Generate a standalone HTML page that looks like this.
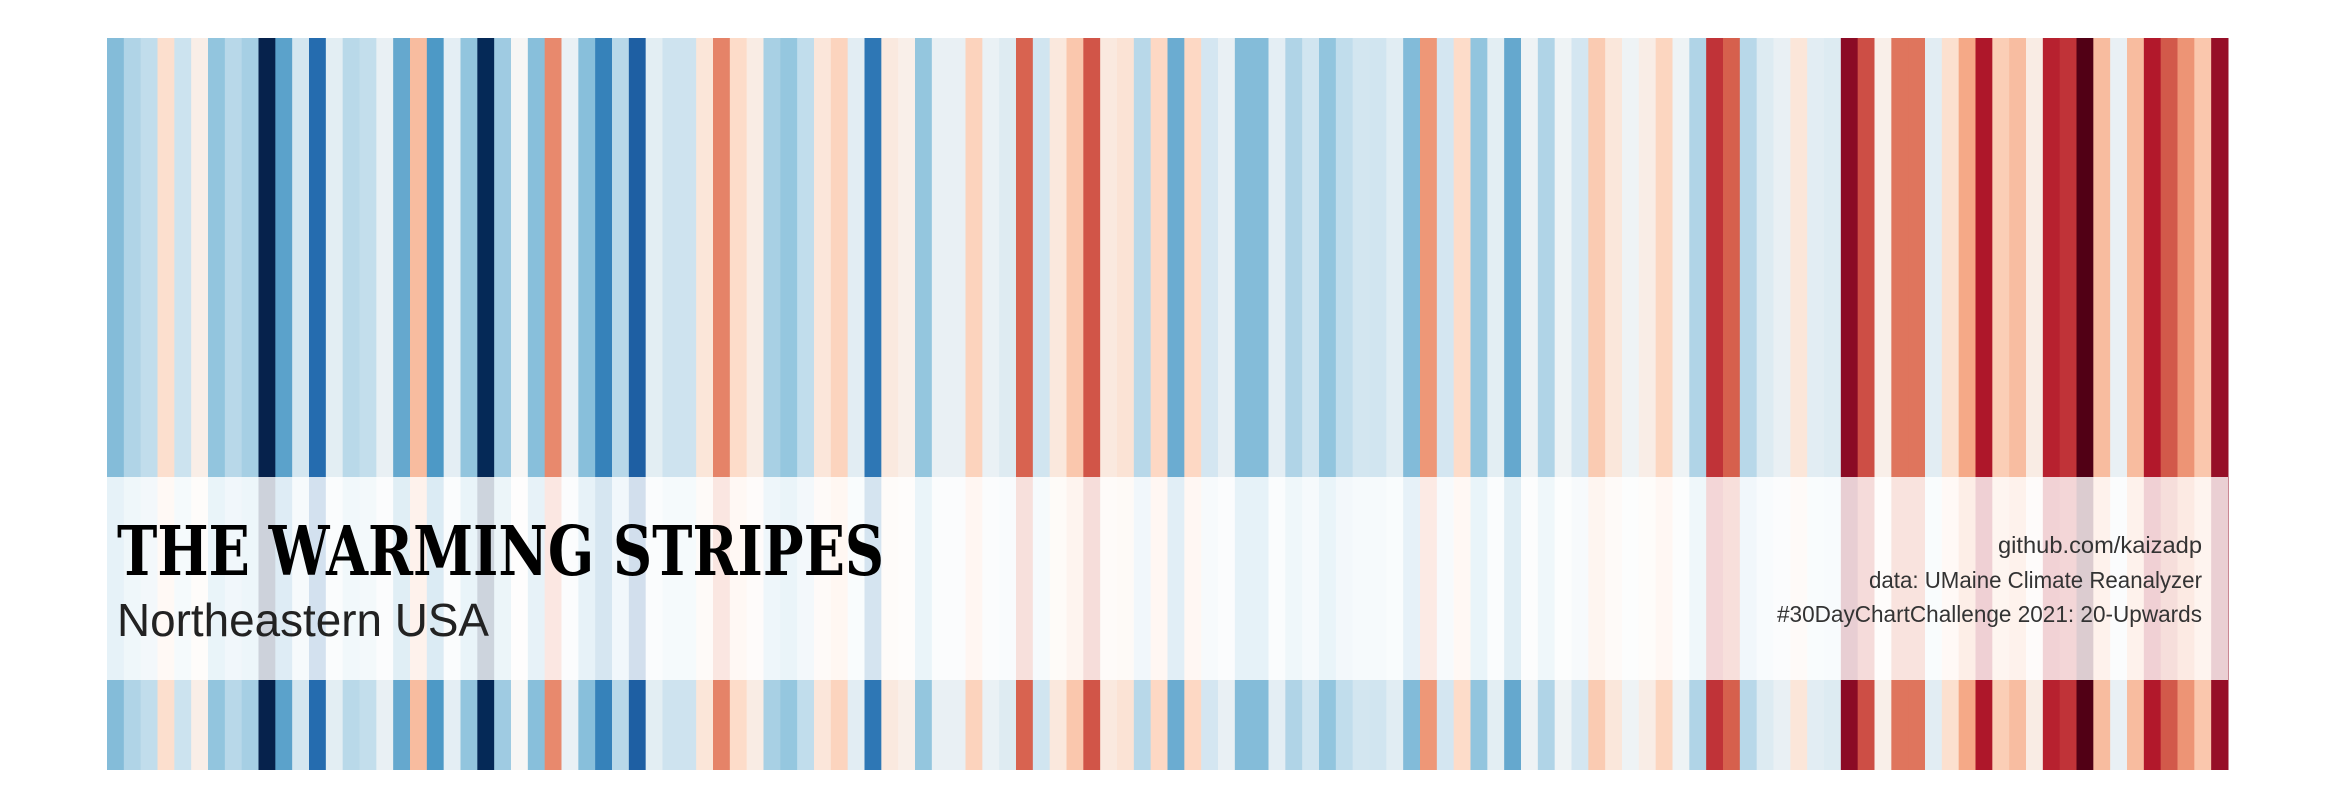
<!DOCTYPE html>
<html><head><meta charset="utf-8"><style>html,body{margin:0;padding:0;background:#fff}svg{display:block}</style></head>
<body>
<svg id="chart" width="2343" height="807" viewBox="0 0 2343 807" xmlns="http://www.w3.org/2000/svg">
<g id="stripes"></g>
<rect x="107" y="477" width="2121" height="203" fill="#fff" fill-opacity="0.8"/>
<text x="117" y="575" font-family="DejaVu Serif, Liberation Serif, serif" font-weight="bold" font-size="68" textLength="767" lengthAdjust="spacingAndGlyphs" fill="#000">THE WARMING STRIPES</text>
<text x="117" y="636" font-family="Liberation Sans, sans-serif" font-size="46" textLength="372" lengthAdjust="spacingAndGlyphs" fill="#222">Northeastern USA</text>
<text x="2202" y="553" text-anchor="end" font-family="Liberation Sans, sans-serif" font-size="23" textLength="204" lengthAdjust="spacingAndGlyphs" fill="#333">github.com/kaizadp</text>
<text x="2202" y="588" text-anchor="end" font-family="Liberation Sans, sans-serif" font-size="23" textLength="333" lengthAdjust="spacingAndGlyphs" fill="#333">data: UMaine Climate Reanalyzer</text>
<text x="2202" y="622" text-anchor="end" font-family="Liberation Sans, sans-serif" font-size="23" textLength="425" lengthAdjust="spacingAndGlyphs" fill="#333">#30DayChartChallenge 2021: 20-Upwards</text>
</svg>
<script>
const startYear = 1895;
const anomalies = [
-0.87,-0.61,-0.5,0.34,-0.43,0.13,-0.8,-0.56,-0.67,-2.3,
-1.08,-0.38,-1.55,-0.21,-0.55,-0.49,-0.15,-1.03,0.63,-1.15,
-0.2,-0.8,-2.15,-0.72,0.02,-0.85,0.96,-0.14,-0.85,-1.35,
-0.56,-1.65,-0.21,-0.42,-0.42,0.25,1.0,0.38,0.16,-0.66,
-0.78,-0.5,0.24,0.45,-0.22,-1.45,0.2,0.12,-0.79,-0.15,
-0.15,0.46,-0.14,-0.26,1.18,-0.4,0.22,0.55,1.26,0.2,
0.28,-0.56,0.42,-1.0,0.42,-0.37,-0.15,-0.87,-0.87,-0.2,
-0.61,-0.4,-0.8,-0.5,-0.38,-0.4,-0.23,-0.88,0.88,-0.37,
0.38,-0.8,-0.21,-1.03,-0.1,-0.61,-0.1,-0.37,0.52,0.23,
-0.1,0.14,0.44,-0.1,-0.61,1.45,1.2,-0.56,-0.27,-0.15,
0.25,-0.22,-0.27,1.81,1.3,0.12,1.08,1.08,-0.22,0.33,
0.77,1.62,0.5,0.62,0.16,1.55,1.45,2.3,0.63,-0.15,
0.63,1.6,1.24,0.9,0.55,1.75
];
const colorStops = [-2.4,-2,-1.6,-1.2,-0.8,-0.4,0,0.4,0.8,1.2,1.6,2,2.4];
const colorHex = ["061d45","053061","2166ac","4393c3","92c5de","d1e5f0","f7f7f7","fddbc7","f4a582","d6604d","b2182b","67001f","4a0012"];
const x0 = 107, x1 = 2228, yTop = 38, yBot = 770;
function xScale(i){ return x0 + i*(x1-x0)/anomalies.length; }
function colorScale(v){
  v = Math.max(colorStops[0], Math.min(colorStops[colorStops.length-1], v));
  let k = 0; while (k < colorStops.length-2 && v > colorStops[k+1]) k++;
  const t = (v-colorStops[k])/(colorStops[k+1]-colorStops[k]);
  const a = colorHex[k], b = colorHex[k+1];
  let out = "#";
  for (let c=0;c<3;c++){
    const ca = parseInt(a.substr(c*2,2),16), cb = parseInt(b.substr(c*2,2),16);
    out += Math.round(ca+(cb-ca)*t).toString(16).padStart(2,"0");
  }
  return out;
}
const g = document.getElementById("stripes");
const NS = "http://www.w3.org/2000/svg";
anomalies.forEach((v,i)=>{
  const r = document.createElementNS(NS,"rect");
  
  
  const xa = xScale(i), xb = xScale(i+1);
  r.setAttribute("x", xa);
  r.setAttribute("y", yTop);
  r.setAttribute("width", xb-xa+0.5);
  r.setAttribute("height", yBot-yTop);
  r.setAttribute("fill", colorScale(v));
  g.appendChild(r);
});
</script>
</body></html>
